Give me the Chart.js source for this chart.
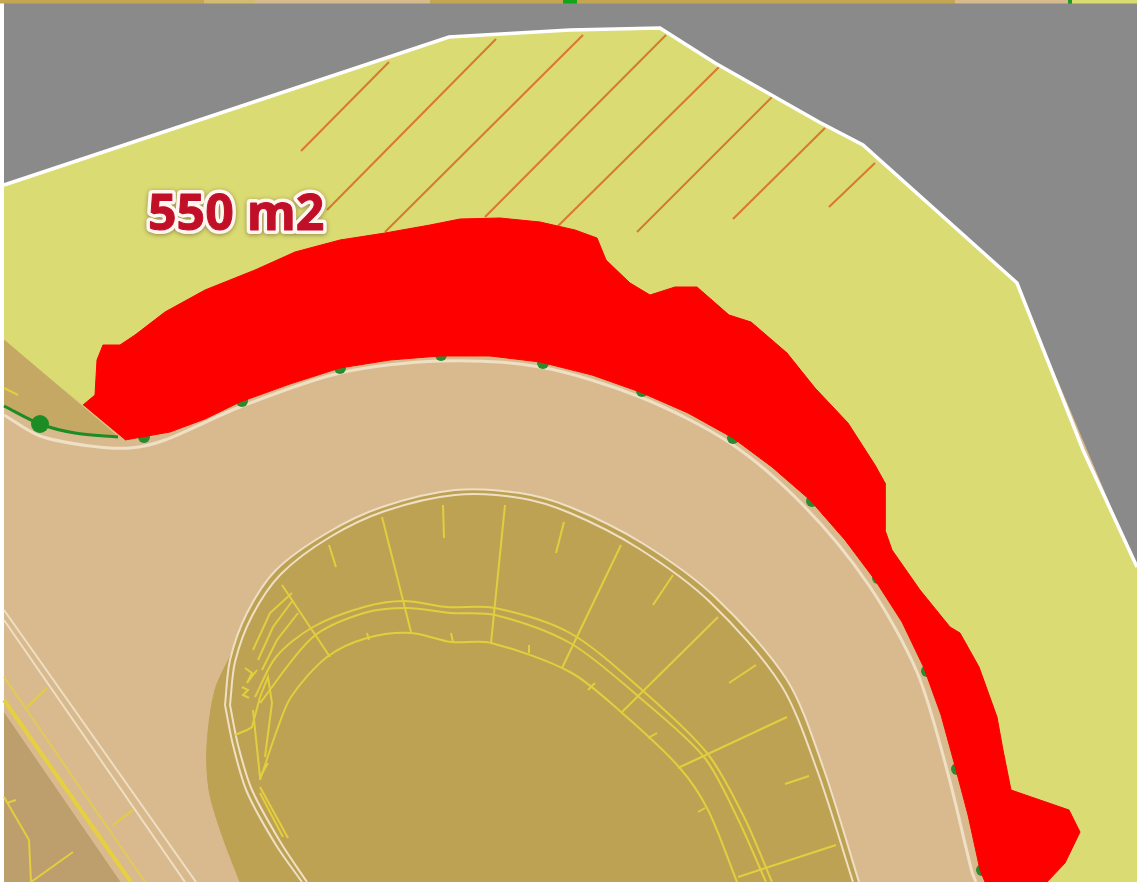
<!DOCTYPE html>
<html>
<head>
<meta charset="utf-8">
<style>
  html, body { margin: 0; padding: 0; background: #fff; overflow: hidden; }
  canvas { display: block; filter: blur(0.5px); }
</style>
<script src="https://cdn.jsdelivr.net/npm/chart.js@4/dist/chart.umd.min.js"></script>
</head>
<body>
<canvas id="myChart" width="1137" height="882"></canvas>
<script>
// values, in picture units
const areaLabel = '550 m2';
const areaLabelAt = [148, 230];

const roadEdge = [[985,882],[980,870],[968,815],[955,766],[941,715],[924,668],[902,622],[875,580],[845,540],[810,500],[772,467],[733,438],[688,413],[640,392],[592,375],[540,362],[490,356],[440,356],[390,360],[340,368],[290,384],[240,402],[205,419],[170,432],[125,440]];
const roadArea = [[4,3],[1137,3],[1137,882],[4,882]];
const greyArea = [[4,3],[1137,3],[1137,567],[1017,283],[863,145],[819,122],[715,63],[660,28],[570,30],[449,37],[4,185]];
const plotTop = [[4,185],[449,37],[570,30],[660,28],[715,63],[819,122],[863,145],[1017,283],[1083,450],[1137,567],[1137,882]];
const plotLeft = [[83,405],[4,340]];
const cornerArea = [[4,340],[118,437],[75,432],[40,424],[4,405]];
const innerArea = [[240,882],[222,835],[209,790],[207,745],[215,690],[233,650],[247,613],[276,570],[327,533],[382,507],[455,490],[520,493],[570,507],[642,543],[715,597],[787,680],[823,767],[859,882]];
const lowerLeftArea = [[4,713],[120,882],[4,882]];
const redTop = [[83,405],[95,395],[97,360],[103,345],[120,345],[135,335],[165,312],[205,290],[255,270],[295,252],[340,240],[385,233],[430,225],[460,219],[500,218],[540,222],[575,230],[597,238],[606,260],[630,283],[650,295],[675,287],[697,287],[729,315],[751,322],[787,353],[815,388],[848,423],[875,465],[885,483],[885,530],[892,550],[920,590],[950,627],[960,633],[979,667],[997,717],[1003,750],[1011,790],[1069,810],[1080,832],[1065,863],[1047,882]];

const boundary = [[4,185],[449,37],[570,30],[660,28],[715,63],[819,122],[863,145],[1017,283],[1083,450],[1137,567]];
const hatches = [
  [[301,151],[389,62]], [[327,210],[496,39]], [[385,232],[583,35]], [[485,217],[666,35]],
  [[558,226],[719,67]], [[637,232],[772,97]], [[733,219],[825,128]], [[829,207],[875,163]]
];
const roadLineOuter = [[4,415],[40,436],[90,446],[130,448],[165,440],[240,407],[340,373],[440,361],[540,367],[640,397],[730,443],[803,505],[868,584],[917,672],[947,770],[972,872],[976,882]];
const innerLineA = [[225,705],[233,745],[247,792],[276,845],[302,882]];
const innerLineB = [[230,705],[238,745],[252,790],[281,843],[307,882]];
const innerLineC = [[225,705],[230,660],[247,613],[276,570],[327,533],[382,507],[455,490],[520,493],[570,507],[642,543],[715,597],[787,680],[823,767],[859,882]];
const innerLineD = [[230,705],[235,662],[252,616],[281,574],[330,537],[385,511],[455,495],[520,498],[570,513],[638,548],[710,602],[781,685],[817,770],[853,882]];
const diagLines = [
  [[4,610],[196,882]], [[4,620],[185,882]], [[4,677],[145,882]]
];
const diagThick = [[4,700],[131,882]];
const greenLine = [[4,406],[40,424],[75,433],[118,437]];
const greenDot = [[40,424]];
const greenStubs = [[144,437],[242,401],[340,368],[441,355],[543,363],[642,391],[733,438],[812,501],[878,578],[927,671],[957,769],[982,870]];

const ringA = [[255,697],[276,657],[313,627],[364,607],[404,601],[447,607],[495,608],[570,633],[642,690],[707,753],[744,817],[772,882]];
const ringB = [[260,703],[313,637],[364,613],[407,608],[451,613],[495,615],[570,643],[639,697],[704,757],[737,817],[766,882]];
const ringC = [[260,780],[276,733],[291,697],[327,657],[367,638],[411,633],[451,642],[491,643],[570,672],[621,712],[679,767],[708,810],[737,882]];
const detailLines = [
  [[329,545],[336,567]], [[382,517],[411,632]], [[443,505],[444,538]], [[505,505],[491,643]], [[564,522],[556,553]],
  [[621,545],[562,668]], [[673,575],[653,605]], [[718,617],[622,712]], [[756,665],[729,683]], [[787,717],[678,768]],
  [[809,776],[785,784]], [[836,845],[738,877]], [[451,633],[453,642]], [[529,645],[529,653]], [[367,633],[369,640]],
  [[595,683],[588,690]], [[657,733],[648,738]], [[705,808],[698,812]],
  [[292,593],[270,613],[253,650]], [[293,600],[273,627],[258,660]], [[298,613],[277,640],[262,670]],
  [[282,585],[300,612],[330,657]], [[245,668],[252,673],[247,683],[257,670]], [[242,687],[248,690],[243,695],[249,698]],
  [[235,735],[247,730],[252,727],[260,697],[268,677],[272,703],[265,757]], [[253,710],[260,777],[268,763]],
  [[260,787],[288,838]], [[260,793],[283,837]],
  [[27,707],[47,688]], [[113,825],[133,810]], [[4,797],[29,840],[31,882]], [[31,882],[73,852]], [[7,803],[16,800]], [[4,388],[18,395]]
];

// strip of the next map tile along the top edge
const stripStops = [0,204,255,430,563,577,955,1068,1072,1137];
const stripColors = ['#C4A553','#D3BB72','#D9BA8E','#C4A553','#12A51C','#C4A553','#D9BA8E','#1E9A2A','#D9DC6E'];

const toPoints = list => list.map(p => ({ x: p[0], y: p[1] }));

function area(list, color, tension) {
  return { data: toPoints(list), showLine: true, fill: 'shape', backgroundColor: color, borderColor: color, borderWidth: 1, tension: tension || 0, pointRadius: 0 };
}
function line(list, color, width, tension) {
  return { data: toPoints(list), showLine: true, fill: false, borderColor: color, borderWidth: width, tension: tension || 0, pointRadius: 0 };
}
function dots(list, color, radius) {
  return { data: toPoints(list), showLine: false, pointRadius: radius, pointBackgroundColor: color, pointBorderWidth: 0 };
}

// back to front
const layers = [
  area(roadArea, '#D9BA8E'),
  area(greyArea, '#8A8A8A'),
  area([...plotTop, ...roadEdge, ...plotLeft], '#DADB72'),
  area(cornerArea, '#C5A864'),
  area(innerArea, '#BEA253', 0.3),
  area(lowerLeftArea, '#BC9F6D'),
  line(innerLineA, '#EFDFC4', 2, 0.3),
  line(innerLineB, '#EFDFC4', 2, 0.3),
  line(innerLineC, '#EFDFC4', 2, 0.3),
  line(innerLineD, '#EFDFC4', 2, 0.3),
  ...diagLines.map((d, i) => line(d, i < 2 ? '#EFDFC4' : '#E3CB55', 2)),
  line(diagThick, '#E6D040', 4),
  line(ringA, '#E2CE3E', 2, 0.3),
  line(ringB, '#E2CE3E', 2, 0.3),
  line(ringC, '#E2CE3E', 2, 0.3),
  ...detailLines.map(d => line(d, '#E2CE3E', 2)),
  line(roadLineOuter, '#EFDFC4', 3, 0.3),
  line(greenLine, '#1C8C25', 3, 0.3),
  dots(greenDot, '#1C8C25', 9),
  dots(greenStubs, '#2A8A2E', 6),
  ...hatches.map(h => line(h, '#D8792E', 2)),
  area([...redTop, ...roadEdge], '#FE0000'),
  line(boundary, '#FFFFFF', 3.5),
  ...stripColors.map((c, i) => area([[stripStops[i],0],[stripStops[i+1],0],[stripStops[i+1],3],[stripStops[i],3]], c))
];
layers.forEach((d, i) => { d.order = layers.length - i; });

const labelPlugin = {
  id: 'areaLabel',
  afterDatasetsDraw(chart) {
    const { ctx, scales: { x, y } } = chart;
    const px = x.getPixelForValue(areaLabelAt[0]);
    const py = y.getPixelForValue(areaLabelAt[1]);
    ctx.save();
    ctx.font = 'bold 50px "Open Sans"';
    ctx.textBaseline = 'alphabetic';
    ctx.lineJoin = 'round';
    ctx.shadowColor = 'rgba(90,70,40,0.55)';
    ctx.shadowBlur = 4;
    ctx.shadowOffsetY = 1;
    ctx.lineWidth = 8;
    ctx.strokeStyle = '#FFF6F0';
    ctx.strokeText(areaLabel, px, py);
    ctx.shadowColor = 'transparent';
    ctx.lineWidth = 1;
    ctx.strokeStyle = '#C00F26';
    ctx.strokeText(areaLabel, px, py);
    ctx.fillStyle = '#C00F26';
    ctx.fillText(areaLabel, px, py);
    ctx.restore();
  }
};

new Chart(document.getElementById('myChart'), {
  type: 'scatter',
  data: { datasets: layers },
  options: {
    responsive: false,
    animation: false,
    layout: { padding: 0, autoPadding: false },
    plugins: { legend: { display: false }, tooltip: { enabled: false } },
    scales: {
      x: { type: 'linear', display: false, min: 0, max: 1137 },
      y: { type: 'linear', display: false, min: 0, max: 882, reverse: true }
    }
  },
  plugins: [labelPlugin]
});
</script>
</body>
</html>
